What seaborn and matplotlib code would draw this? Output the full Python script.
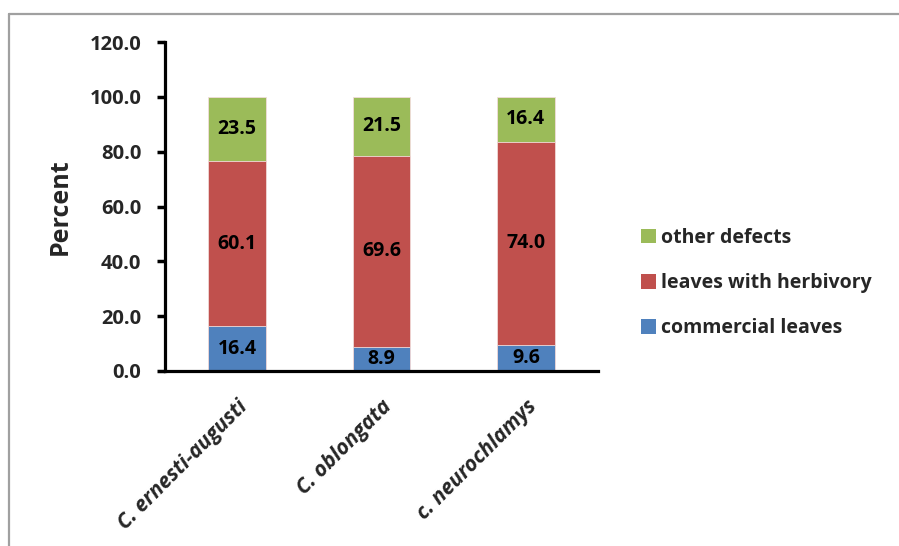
import matplotlib
matplotlib.use("Agg")
import matplotlib.pyplot as plt
import seaborn as sns
import pandas as pd
import numpy as np
from matplotlib.lines import Line2D
from matplotlib.patches import Patch

categories = ["C. ernesti-augusti", "C. oblongata", "c. neurochlamys"]
commercial = [16.4, 8.9, 9.6]
herbivory = [60.1, 69.6, 74.0]
other = [23.5, 21.5, 16.4]
series_names = ["commercial leaves", "leaves with herbivory", "other defects"]
yticks = [0, 20, 40, 60, 80, 100, 120]

colors = {"commercial leaves": "#4F81BD",
          "leaves with herbivory": "#C0504D",
          "other defects": "#9BBB59"}

sns.set_style("white")
plt.rcParams['font.family'] = ['Open Sans', 'DejaVu Sans']
plt.rcParams['font.weight'] = 'bold'

fig = plt.figure(figsize=(8.99, 5.46), dpi=100)
ax = fig.add_axes([165/899, 1-371/546, (598-165)/899, (371-42)/546])

c1 = np.array(commercial)
c2 = c1 + np.array(herbivory)
c3 = c2 + np.array(other)
layers = [("other defects", c3), ("leaves with herbivory", c2), ("commercial leaves", c1)]
for name, cum in layers:
    df = pd.DataFrame({"cat": categories, "val": cum})
    sns.barplot(data=df, x="cat", y="val", color=colors[name], width=0.4,
                saturation=1, ax=ax, edgecolor="#F2DCDB", linewidth=0.6)

fs = 14
for i in range(3):
    ax.text(i, c1[i]/2, f"{commercial[i]:.1f}", ha="center", va="center",
            fontsize=fs, fontweight="bold", color="black")
    ax.text(i, c1[i] + herbivory[i]/2, f"{herbivory[i]:.1f}", ha="center", va="center",
            fontsize=fs, fontweight="bold", color="black")
    ax.text(i, c2[i] + other[i]/2, f"{other[i]:.1f}", ha="center", va="center",
            fontsize=fs, fontweight="bold", color="black")

ax.set_xlim(-0.5, 2.5)
ax.set_ylim(0, 120)
ax.set_yticks(yticks)
ax.set_yticklabels([f"{v:.1f}" for v in yticks], fontsize=14.5, fontweight="bold")
ax.set_xticks(range(3))
ax.set_xticklabels(categories, rotation=45, ha="right", va="top",
                   rotation_mode="anchor", fontsize=15, fontweight="bold",
                   fontstyle="italic")
ax.set_xticks([-0.5, 0.5, 1.5, 2.5], minor=True)
ax.tick_params(axis="x", which="major", length=0, pad=18)
ax.tick_params(axis="x", which="minor", length=8, width=2.5, direction="out", color="black")
ax.tick_params(axis="y", which="major", length=6, width=2.5, direction="out", color="black", pad=11, left=True)
ax.set_xlabel("")
ax.set_ylabel("Percent", fontsize=18, fontweight="bold", labelpad=12)

for s in ["top", "right"]:
    ax.spines[s].set_visible(False)
for s in ["left", "bottom"]:
    ax.spines[s].set_color("black")
    ax.spines[s].set_linewidth(2.3)

legend_order = ["other defects", "leaves with herbivory", "commercial leaves"]
handles = [Patch(facecolor=colors[n], edgecolor="none") for n in legend_order]
fig.legend(handles, legend_order,
           loc="center left", bbox_to_anchor=(623/899, 1-283/546), frameon=False,
           prop={"weight": "bold", "size": 14}, handlelength=0.8, handleheight=0.8,
           handletextpad=0.25, labelspacing=1.3)

fig.add_artist(Line2D([9/899, 1], [1-14/546, 1-14/546], color="#A0A0A0", lw=1.6, transform=fig.transFigure))
fig.add_artist(Line2D([9/899, 9/899], [0, 1-14/546], color="#A0A0A0", lw=1.6, transform=fig.transFigure))

fig.savefig("out.png", dpi=100)
